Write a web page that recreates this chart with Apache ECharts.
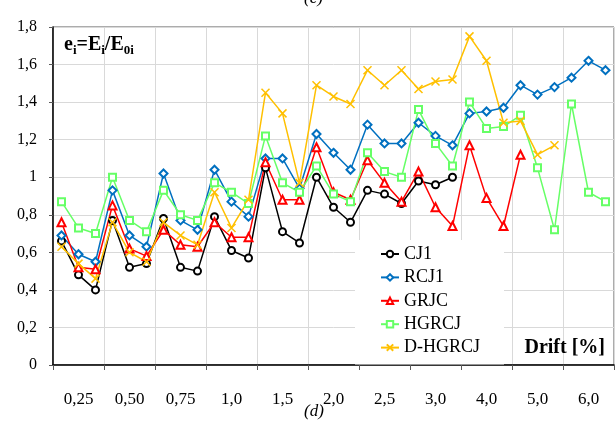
<!DOCTYPE html>
<html>
<head>
<meta charset="utf-8">
<script src="https://cdn.jsdelivr.net/npm/echarts@6/dist/echarts.min.js"></script>
<style>html,body{margin:0;padding:0;background:#fff}#c{width:616px;height:436px}</style>
</head>
<body>
<div id="c"></div>
<script>
var drifts = ['0,25','0,50','0,75','1,0','1,5','2,0','2,5','3,0','4,0','5,0','6,0'];
var cyclesPerDrift = 3;
var yTickLabels = ['0','0,2','0,4','0,6','0,8','1','1,2','1,4','1,6','1,8'];
var seriesNames = ['CJ1','RCJ1','GRJC','HGRCJ','D-HGRCJ'];

var CJ1 = [0.66,0.48,0.40, 0.77,0.52,0.54, 0.78,0.52,0.50, 0.79,0.61,0.57, 1.05,0.71,0.65, 1.00,0.84,0.76, 0.93,0.91,0.86, 0.98,0.96,1.00, null,null,null, null,null,null, null,null,null];
var RCJ1 = [0.69,0.59,0.55, 0.93,0.69,0.63, 1.02,0.77,0.72, 1.04,0.87,0.79, 1.10,1.10,0.94, 1.23,1.13,1.04, 1.28,1.18,1.18, 1.29,1.22,1.17, 1.34,1.35,1.37, 1.49,1.44,1.48, 1.53,1.62,1.57];
var GRJC = [0.76,0.52,0.51, 0.85,0.62,0.58, 0.72,0.64,0.63, 0.76,0.68,0.68, 1.08,0.88,0.88, 1.16,0.92,0.88, 1.09,0.97,0.87, 1.03,0.84,0.74, 1.17,0.89,0.74, 1.12,null,null, null,null,null];
var HGRCJ = [0.87,0.73,0.70, 1.00,0.77,0.71, 0.93,0.80,0.77, 0.97,0.92,0.86, 1.22,0.97,0.92, 1.06,0.91,0.87, 1.13,1.03,1.00, 1.36,1.18,1.06, 1.40,1.26,1.27, 1.33,1.05,0.72, 1.39,0.92,0.87];
var DHGRCJ = [0.63,0.54,0.46, 0.76,0.60,0.55, 0.76,0.69,0.64, 0.92,0.73,0.88, 1.45,1.34,0.97, 1.49,1.43,1.39, 1.57,1.49,1.57, 1.47,1.51,1.52, 1.75,1.62,1.29, 1.30,1.12,1.17, null,null,null];

var categories = [];
drifts.forEach(function (d) {
  for (var k = 1; k <= cyclesPerDrift; k++) categories.push(d + ' #' + k);
});

var FONT = 'Liberation Serif';
var colors = ['#000000', '#0070C0', '#FF0000', '#66FF66', '#FFC000'];
var symbols = ['emptyCircle', 'emptyDiamond', 'emptyTriangle', 'emptyRect', 'path://M0,0L10,10M10,0L0,10'];
var sizes = [7, 8, 8, 7, 8];
var allData = [CJ1, RCJ1, GRJC, HGRCJ, DHGRCJ];

var series = seriesNames.map(function (name, i) {
  return {
    name: name,
    type: 'line',
    data: allData[i],
    symbol: symbols[i],
    symbolSize: sizes[i],
    showAllSymbol: true,
    connectNulls: false,
    lineStyle: { color: colors[i], width: 1.5 },
    itemStyle: { color: colors[i], borderColor: colors[i], borderWidth: 1.5 },
    emphasis: { disabled: true },
    animation: false
  };
});

var chart = echarts.init(document.getElementById('c'), null, { renderer: 'canvas' });
chart.setOption({
  animation: false,
  color: colors,
  grid: { left: 53, right: 2, top: 27, bottom: 71, show: true, borderColor: '#595959', borderWidth: 1, backgroundColor: 'transparent' },
  xAxis: {
    type: 'category',
    data: categories,
    boundaryGap: true,
    axisLine: { lineStyle: { color: '#000', width: 1.5 } },
    axisTick: { show: true, length: 5, interval: function (i) { return i % cyclesPerDrift === 0; }, lineStyle: { color: '#595959' } },
    splitLine: { show: true, interval: function (i) { return i % cyclesPerDrift === 0; }, lineStyle: { color: '#D9D9D9', width: 1 } },
    axisLabel: {
      interval: function (i) { return i % cyclesPerDrift === 1; },
      formatter: function (v, i) { return drifts[Math.floor(i / cyclesPerDrift)]; },
      margin: 26,
      fontFamily: FONT, fontSize: 17, color: '#000'
    }
  },
  yAxis: {
    type: 'value',
    min: 0, max: 1.8, interval: 0.2,
    axisLine: { show: true, lineStyle: { color: '#000', width: 1.5 } },
    axisTick: { show: true, length: 4, lineStyle: { color: '#595959' } },
    splitLine: { show: true, lineStyle: { color: '#D9D9D9', width: 1 } },
    axisLabel: {
      formatter: function (v) { return yTickLabels[Math.round(v / 0.2)]; },
      margin: 16,
      fontFamily: FONT, fontSize: 16, color: '#000'
    }
  },
  legend: {
    orient: 'vertical',
    left: 355, top: 240,
    backgroundColor: '#fff',
    padding: [5, 24, 8, 25],
    itemGap: 5.4,
    itemWidth: 18, itemHeight: 8,
    data: seriesNames,
    selectedMode: false,
    textStyle: { fontFamily: FONT, fontSize: 18, color: '#000' }
  },
  graphic: [
    {
      type: 'text', left: 64, top: 33, z: 10,
      style: {
        text: '{a|e}{s|i}{a|=E}{s|i}{a|/E}{s|0i}',
        rich: {
          a: { fontFamily: FONT, fontSize: 20, fontWeight: 'bold', fill: '#000', lineHeight: 20 },
          s: { fontFamily: FONT, fontSize: 13, fontWeight: 'bold', fill: '#000', padding: [11, 0, 0, 0], lineHeight: 13 }
        }
      }
    },
    {
      type: 'text', right: 11, top: 338, z: 10,
      style: { text: 'Drift [%]', fontFamily: FONT, fontSize: 20, fontWeight: 'bold', fill: '#000' }
    },
    {
      type: 'text', left: 304, top: 403, z: 10,
      style: { text: '(d)', fontFamily: FONT, fontSize: 17, fontStyle: 'italic', fill: '#000' }
    },
    {
      type: 'text', left: 304, top: -10, z: 10,
      style: { text: '(c)', fontFamily: FONT, fontSize: 17, fontStyle: 'italic', fill: '#000' }
    }
  ],
  series: series
});
</script>
</body>
</html>
